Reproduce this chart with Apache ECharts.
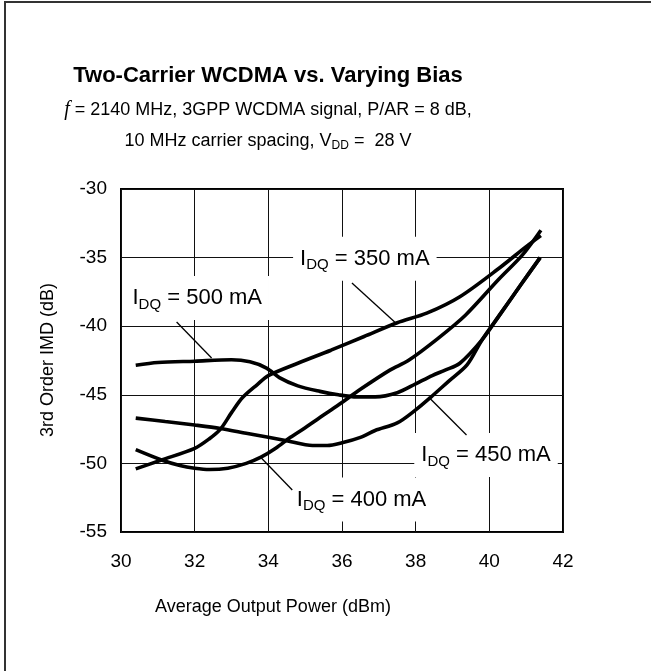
<!DOCTYPE html>
<html>
<head>
<meta charset="utf-8">
<script src="https://cdn.jsdelivr.net/npm/echarts@6/dist/echarts.min.js"></script>
<style>
  html, body { margin: 0; padding: 0; background: #fff; overflow: hidden; }
  #frame { position: absolute; left: 4px; top: 1px; width: 900px; height: 900px; border: 2px solid #333; }
  #chart { position: absolute; left: 0; top: 0; width: 651px; height: 671px; }
</style>
</head>
<body>
<div id="frame"></div>
<div id="chart"></div>
<script>
// IMD vs output power, one pair of arrays per bias current
const power350 = [30.4, 31.1, 32.0, 32.4, 32.7, 33.0, 33.3, 33.7, 34.0, 34.8, 35.7, 36.6, 37.5, 38.3, 39.2, 40.3, 41.0, 41.4];
const imd350 = [-50.4, -49.75, -48.9, -48.2, -47.5, -46.3, -45.2, -44.25, -43.6, -42.7, -41.75, -40.75, -39.75, -39.05, -37.85, -35.7, -34.2, -33.4];

const power400 = [30.4, 31.1, 31.6, 32.0, 32.4, 32.9, 33.4, 33.8, 34.2, 34.6, 35.0, 35.4, 35.9, 36.5, 37.3, 37.8, 38.6, 39.35, 40.25, 40.9, 41.4];
const imd400 = [-49.0, -49.75, -50.15, -50.35, -50.45, -50.35, -50.0, -49.55, -48.9, -48.1, -47.4, -46.65, -45.75, -44.6, -43.2, -42.5, -40.9, -39.2, -36.6, -34.8, -33.0];

const power450 = [30.4, 31.2, 32.0, 32.7, 33.4, 34.0, 34.5, 35.2, 35.6, 36.0, 36.5, 36.9, 37.5, 38.0, 38.4, 38.9, 39.4, 39.8, 40.3, 40.85, 41.38];
const imd450 = [-46.7, -46.95, -47.2, -47.45, -47.8, -48.1, -48.35, -48.7, -48.7, -48.5, -48.1, -47.6, -47.05, -46.1, -45.2, -44.0, -42.8, -41.0, -39.1, -37.0, -35.0];

const power500 = [30.4, 31.0, 32.0, 33.0, 33.5, 33.95, 34.3, 34.8, 35.4, 35.9, 36.4, 36.9, 37.5, 38.0, 38.45, 38.8, 39.2, 39.8, 40.3, 40.85, 41.38];
const imd500 = [-42.85, -42.65, -42.55, -42.45, -42.6, -43.05, -43.75, -44.35, -44.75, -45.0, -45.15, -45.15, -44.85, -44.2, -43.6, -43.2, -42.7, -41.0, -39.1, -37.0, -35.0];

// callouts: bias value, text anchor and leader line (data coords)
const calloutBias = ["350", "500", "450", "400"];
const calloutAt = [[36.62, -35.08], [32.07, -37.94], [39.91, -49.39], [36.53, -52.63]];
const leaderFrom = [[36.27, -36.85], [31.51, -39.69], [39.38, -47.93], [34.65, -51.94]];
const leaderTo = [[37.46, -39.77], [32.46, -42.32], [38.35, -45.16], [33.81, -49.61]];

const xTicks = { min: 30, max: 42, step: 2 };
const yTicks = { min: -55, max: -30, step: 5 };

const FONT = "Liberation Sans, Arial, sans-serif";
const chart = echarts.init(document.getElementById("chart"));

function zip(xs, ys) {
  return xs.map((x, i) => [x, ys[i]]);
}

function curve(xs, ys) {
  return {
    type: "line",
    data: zip(xs, ys),
    smooth: 0.3,
    symbol: "none",
    z: 4,
    lineStyle: { color: "#000", width: 3.6 }
  };
}

const leaders = leaderFrom.map((p, i) => ({
  type: "line",
  data: [p, leaderTo[i]],
  symbol: "none",
  z: 3,
  lineStyle: { color: "#000", width: 1.3 }
}));

const headings = [
  { type: "text", x: 268, y: 76, style: { text: "Two-Carrier WCDMA vs. Varying Bias", font: "bold 22px " + FONT, fill: "#000", align: "center", verticalAlign: "middle" } },
  { type: "text", x: 268, y: 110, style: {
    text: "{it|f} = 2140 MHz, 3GPP WCDMA signal, P/AR = 8 dB,",
    fontSize: 18, fontFamily: FONT, fill: "#000", align: "center", verticalAlign: "middle",
    rich: { it: { fontSize: 20, fontFamily: "Liberation Serif, serif", fontStyle: "italic" } }
  } },
  { type: "text", x: 268, y: 141, style: {
    text: "10 MHz carrier spacing, V{sub|DD} =  28 V",
    fontSize: 18, fontFamily: FONT, fill: "#000", align: "center", verticalAlign: "middle", lineHeight: 22,
    rich: { sub: { fontSize: 12, fontFamily: FONT, lineHeight: 12, verticalAlign: "bottom" } }
  } },
  { type: "text", x: 273, y: 607, style: { text: "Average Output Power (dBm)", fontSize: 18, fontFamily: FONT, fill: "#000", align: "center", verticalAlign: "middle" } },
  { type: "text", x: 48, y: 360, rotation: Math.PI / 2, style: { text: "3rd Order IMD (dB)", fontSize: 18, fontFamily: FONT, fill: "#000", align: "center", verticalAlign: "middle" } }
];

const option = {
  animation: false,
  grid: { left: 121, top: 189, right: 88, bottom: 139, show: true, borderColor: "#000", borderWidth: 2, containLabel: false, outerBoundsMode: "none" },
  xAxis: {
    type: "value",
    min: xTicks.min, max: xTicks.max, interval: xTicks.step,
    axisLine: { show: false },
    axisTick: { show: false },
    axisLabel: { color: "#000", fontSize: 19, fontFamily: FONT, margin: 20 },
    splitLine: { show: true, lineStyle: { color: "#111", width: 1 } }
  },
  yAxis: {
    type: "value",
    min: yTicks.min, max: yTicks.max, interval: yTicks.step,
    axisLine: { show: false },
    axisTick: { show: false },
    axisLabel: { color: "#000", fontSize: 19, fontFamily: FONT, margin: 14 },
    splitLine: { show: true, lineStyle: { color: "#111", width: 1 } }
  },
  graphic: headings,
  series: [
    curve(power350, imd350),
    curve(power400, imd400),
    curve(power450, imd450),
    curve(power500, imd500),
    ...leaders
  ]
};

chart.setOption(option);

// callout texts placed through the grid's own scale
const callouts = calloutAt.map((p, i) => {
  const [px, py] = chart.convertToPixel({ gridIndex: 0 }, p);
  return {
    type: "text",
    x: px,
    y: py,
    z: 2,
    style: {
      text: "I{sub|DQ} = " + calloutBias[i] + " mA",
      fontSize: 22,
      fontFamily: FONT,
      fill: "#000",
      align: "center",
      verticalAlign: "middle",
      lineHeight: 28,
      backgroundColor: "#fff",
      padding: [8, 7],
      rich: { sub: { fontSize: 15, fontFamily: FONT, fill: "#000", lineHeight: 15, verticalAlign: "bottom" } }
    }
  };
});

chart.setOption({ graphic: headings.concat(callouts) });
</script>
</body>
</html>
